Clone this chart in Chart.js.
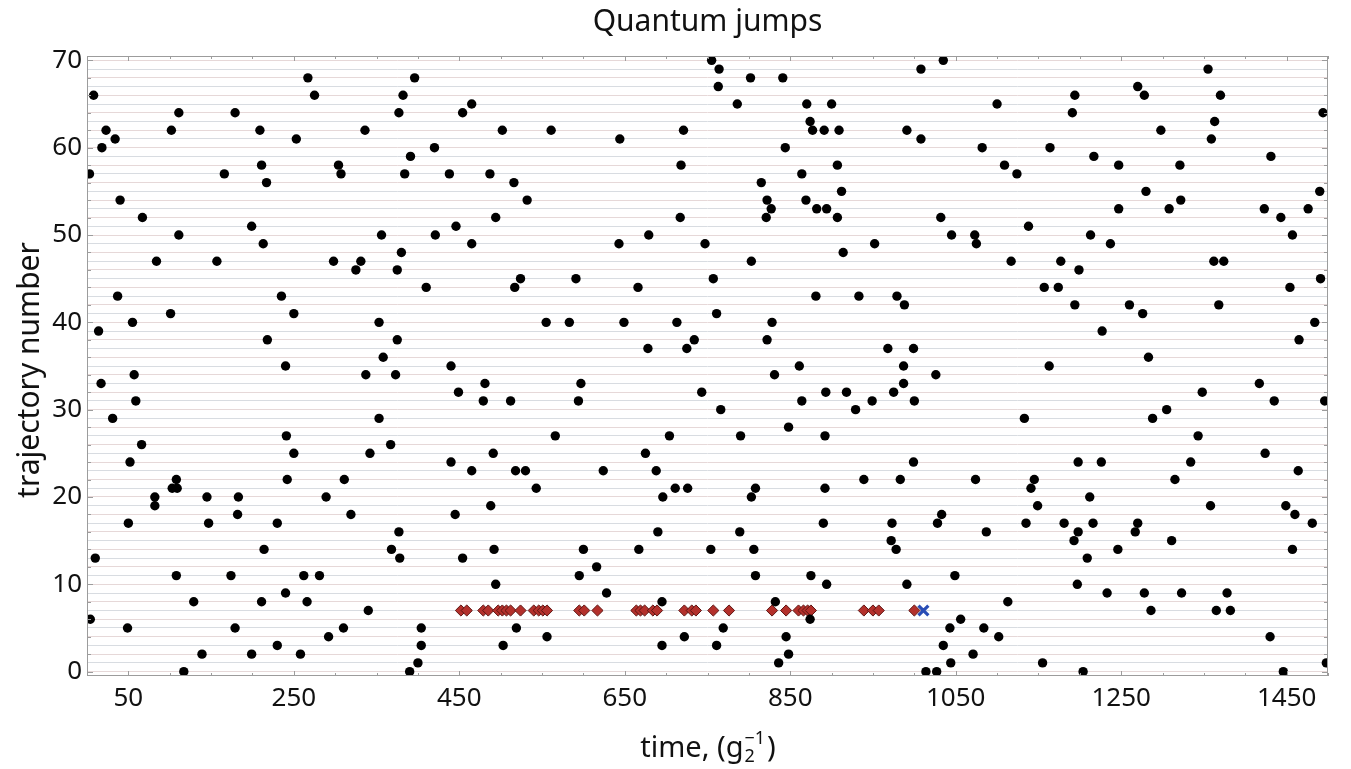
<!DOCTYPE html>
<html>
<head>
<meta charset="utf-8">
<script src="https://cdn.jsdelivr.net/npm/chart.js@4.4.0/dist/chart.umd.min.js"></script>
<style>
  html, body { margin: 0; padding: 0; background: #fff; }
  #wrap { width: 1351px; height: 769px; }
</style>
</head>
<body>
<div id="wrap"><canvas id="chart" width="1351" height="769"></canvas></div>
<script>
// --- Data ---
const X_TICKS = [50, 250, 450, 650, 850, 1050, 1250, 1450];
const Y_TICKS = [0, 10, 20, 30, 40, 50, 60, 70];

// jump times (x) and trajectory numbers (y)
const jumpTime = [
  8, 3, 23, 34, 18, 40, 67, 111, 84, 37, 101, 55, 14, 111, 102, 179, 166, 157, 199, 213,
  209, 211, 217, 235, 250, 218, 240, 267, 275, 253, 304, 307, 336, 298, 331, 325, 356, 353, 375, 358,
  377, 382, 396, 391, 384, 380, 375, 410, 420, 438, 421, 446, 465, 440, 454, 465, 487, 494, 502,
  561, 644, 721, 755, 764, 763, 802, 841, 786, 870, 900, 874, 877, 891, 909, 991, 844, 718, 907, 864,
  516, 815, 912, 532, 822, 869, 827, 882, 894, 717, 821, 907, 679, 643, 747, 952, 914, 803, 524, 517,
  591, 666, 757, 881, 933, 979, 988, 761, 555, 583, 649, 713, 828, 734, 822, 678, 725, 968, 861, 987,
  1008, 1035, 1008, 1100, 1082, 1109, 1124, 1164, 1194, 1191, 1217, 1247, 1270, 1278, 1298, 1321, 1355, 1370, 1363, 1359,
  1431, 1494, 1280, 1247, 1308, 1322, 1423, 1443, 1476, 1490, 1457, 1032, 1045, 1073, 1075, 1138, 1213, 1237, 1117, 1177,
  1199, 1157, 1174, 1362, 1374, 1454, 1491, 1194, 1260, 1276, 1368, 1227, 1484, 1465, 999, 1283, 1163,
  57, 17, 59, 31, 66, 52, 108, 103, 109, 82, 82, 50, 10, 4, 49, 117, 129, 108, 139, 145,
  147, 174, 179, 183, 182, 199, 214, 211, 230, 230, 241, 250, 242, 240, 262, 266, 258, 281, 292, 289,
  311, 310, 319, 337, 373, 353, 367, 342, 340, 377, 368, 378, 390, 400, 404, 404, 440, 449, 481, 479,
  465, 491, 488, 445, 454, 492, 494,
  831, 597, 594, 512, 743, 766, 893, 918, 864, 929, 949, 975, 987, 566, 704, 790, 848, 892, 675, 518,
  530, 624, 688, 543, 711, 726, 696, 808, 803, 892, 939, 983, 690, 789, 890, 973, 972, 978, 600, 667,
  754, 806, 616, 595, 808, 875, 894, 991, 628, 695, 832, 874, 519, 769, 556, 722, 845, 503, 695, 761,
  848, 836,
  1026, 1000, 1417, 1348, 1435, 1496, 1305, 1133, 1288, 1343, 999, 1198, 1226, 1334, 1424, 1464, 1074, 1145, 1141, 1315,
  1212, 1149, 1358, 1449, 1460, 1481, 1033, 1028, 1135, 1181, 1216, 1270, 1087, 1198, 1267, 1193, 1311, 1246, 1457, 1209,
  1049, 1197, 1233, 1278, 1323, 1378, 1113, 1286, 1365, 1382, 1056, 1043, 1084, 1102, 1430, 1035, 1071, 1044, 1155, 1498,
  1014, 1027, 1204, 1446
];
const jumpTraj = [
  66, 57, 62, 61, 60, 54, 52, 50, 47, 43, 41, 40, 39, 64, 62, 64, 57, 47, 51, 49,
  62, 58, 56, 43, 41, 38, 35, 68, 66, 61, 58, 57, 62, 47, 47, 46, 50, 40, 38, 36,
  64, 66, 68, 59, 57, 48, 46, 44, 60, 57, 50, 51, 49, 35, 64, 65, 57, 52, 62,
  62, 61, 62, 70, 69, 67, 68, 68, 65, 65, 65, 63, 62, 62, 62, 62, 60, 58, 58, 57,
  56, 56, 55, 54, 54, 54, 53, 53, 53, 52, 52, 52, 50, 49, 49, 49, 48, 47, 45, 44,
  45, 44, 45, 43, 43, 43, 42, 41, 40, 40, 40, 40, 40, 38, 38, 37, 37, 37, 35, 35,
  69, 70, 61, 65, 60, 58, 57, 60, 66, 64, 59, 58, 67, 66, 62, 58, 69, 66, 63, 61,
  59, 64, 55, 53, 53, 54, 53, 52, 53, 55, 50, 52, 50, 50, 49, 51, 50, 49, 47, 47,
  46, 44, 44, 47, 47, 44, 45, 42, 42, 41, 42, 39, 40, 38, 37, 36, 35,
  34, 33, 31, 29, 26, 24, 22, 21, 21, 20, 19, 17, 13, 6, 5, 0, 8, 11, 2, 20,
  17, 11, 5, 20, 18, 2, 14, 8, 3, 17, 27, 25, 22, 9, 11, 8, 2, 11, 4, 20,
  22, 5, 18, 34, 34, 29, 26, 25, 7, 16, 14, 13, 0, 1, 3, 5, 24, 32, 33, 31,
  23, 25, 19, 18, 13, 14, 10,
  34, 33, 31, 31, 32, 30, 32, 32, 31, 30, 31, 32, 33, 27, 27, 27, 28, 27, 25, 23,
  23, 23, 23, 21, 21, 21, 20, 21, 20, 21, 22, 22, 16, 16, 17, 17, 15, 14, 14, 14,
  14, 14, 12, 11, 11, 11, 10, 10, 9, 8, 8, 6, 5, 5, 4, 4, 4, 3, 3, 3,
  2, 1,
  34, 31, 33, 32, 31, 31, 30, 29, 29, 27, 24, 24, 24, 24, 25, 23, 22, 22, 21, 22,
  20, 19, 19, 19, 18, 17, 18, 17, 17, 17, 17, 17, 16, 16, 16, 15, 15, 14, 14, 13,
  11, 10, 9, 9, 9, 9, 8, 7, 7, 7, 6, 5, 5, 4, 4, 3, 2, 1, 1, 1,
  0, 0, 0, 0
];

// trajectory 7 is followed: its jumps are drawn as diamonds, the last one as a cross
const trackedTraj = 7;
const trackedTimes = [
  452, 459, 479, 485, 497, 502, 507, 512, 524, 540, 546, 551, 556, 595, 601, 617, 664, 669, 674, 684,
  689, 722, 731, 736, 757, 776, 828, 845, 860, 866, 871, 875, 939, 950, 957, 1000
];
const finalTime = [1011];

// --- Helpers ---
const FONT = '"Noto Sans", "Open Sans", sans-serif';

function toPoints(xs, ys) {
  return xs.map((t, i) => ({ x: t, y: Array.isArray(ys) ? ys[i] : ys }));
}

// frame, inward tick marks and all titles
const decorPlugin = {
  id: 'decor',
  afterDraw(chart) {
    const { ctx, chartArea: a, scales: { x, y } } = chart;
    ctx.save();
    ctx.strokeStyle = '#9c9c9c';
    ctx.lineWidth = 1;
    ctx.strokeRect(a.left + 0.5, a.top + 0.5, a.right - a.left - 1, a.bottom - a.top - 1);

    ctx.beginPath();
    for (let v = 0; v <= 1500; v += 50) {
      const px = Math.round(x.getPixelForValue(v)) + 0.5;
      const len = X_TICKS.includes(v) ? 5 : 3;
      ctx.moveTo(px, a.bottom); ctx.lineTo(px, a.bottom - len);
      ctx.moveTo(px, a.top); ctx.lineTo(px, a.top + len);
    }
    for (let v = 0; v <= 70; v += 2) {
      const py = Math.round(y.getPixelForValue(v)) + 0.5;
      const len = Y_TICKS.includes(v) ? 6 : 4;
      ctx.moveTo(a.left, py); ctx.lineTo(a.left + len, py);
      ctx.moveTo(a.right, py); ctx.lineTo(a.right - len, py);
    }
    ctx.stroke();

    ctx.fillStyle = '#111';
    const cx = (a.left + a.right) / 2;

    // chart title
    ctx.font = `30px ${FONT}`;
    ctx.textAlign = 'center';
    ctx.textBaseline = 'alphabetic';
    ctx.fillText('Quantum jumps', cx, 31);

    // x title: time, (g_2^-1)
    const big = `29px ${FONT}`, small = `18px ${FONT}`;
    ctx.font = big;
    const w1 = ctx.measureText('time, (g').width;
    const w3 = ctx.measureText(')').width;
    ctx.font = small;
    const w2 = Math.max(ctx.measureText('\u22121').width, ctx.measureText('2').width) + 2;
    let sx = cx - (w1 + w2 + w3) / 2;
    const base = 757;
    ctx.textAlign = 'left';
    ctx.font = big;
    ctx.fillText('time, (g', sx, base);
    sx += w1 + 1;
    ctx.font = small;
    ctx.fillText('\u22121', sx, base - 13);
    ctx.fillText('2', sx, base + 5);
    sx += w2;
    ctx.font = big;
    ctx.fillText(')', sx, base);

    // y title
    ctx.translate(30, (a.top + a.bottom) / 2 + 4);
    ctx.rotate(-Math.PI / 2);
    ctx.font = `30px ${FONT}`;
    ctx.textAlign = 'center';
    ctx.textBaseline = 'middle';
    ctx.fillText('trajectory number', 0, 0);
    ctx.restore();
  }
};

// --- Chart ---
const ctx = document.getElementById('chart').getContext('2d');
new Chart(ctx, {
  type: 'scatter',
  data: {
    datasets: [
      {
        label: 'jumps',
        data: toPoints(jumpTime, jumpTraj),
        pointRadius: 4.7,
        pointBackgroundColor: '#000',
        pointBorderWidth: 0
      },
      {
        label: 'trajectory 7',
        data: toPoints(trackedTimes, trackedTraj),
        pointStyle: 'rectRot',
        pointRadius: 5.6,
        pointBackgroundColor: '#b3302b',
        pointBorderColor: '#5e1512',
        pointBorderWidth: 1
      },
      {
        label: 'last jump',
        data: toPoints(finalTime, trackedTraj),
        pointStyle: 'crossRot',
        pointRadius: 7,
        pointBorderColor: '#2a4db5',
        pointBorderWidth: 3.2
      }
    ]
  },
  options: {
    responsive: false,
    animation: false,
    layout: { padding: { top: 56, right: 23, left: 0, bottom: 0 } },
    plugins: { legend: { display: false }, tooltip: { enabled: false }, title: { display: false } },
    scales: {
      x: {
        type: 'linear',
        min: 0,
        max: 1500,
        afterBuildTicks: s => { s.ticks = X_TICKS.map(v => ({ value: v })); },
        afterFit: s => { s.height = 93; },
        grid: { display: false, drawTicks: false },
        border: { display: false },
        ticks: {
          autoSkip: false, maxRotation: 0, padding: 7, color: '#111',
          font: { family: FONT, size: 26 },
          callback: v => String(v)
        }
      },
      y: {
        type: 'linear',
        min: -0.5,
        max: 70.5,
        afterBuildTicks: s => {
          const t = [];
          for (let v = 0; v <= 70; v++) t.push({ value: v });
          s.ticks = t;
        },
        afterFit: s => { s.width = 87; },
        grid: {
          drawTicks: false,
          color: c => (c.tick && c.tick.value % 2) ? '#d8dce1' : '#e6d8d8',
          lineWidth: 1
        },
        border: { display: false },
        ticks: {
          autoSkip: false,
          padding: 5,
          color: '#111',
          font: { family: FONT, size: 26 },
          callback: v => (Y_TICKS.includes(v) ? String(v) : '')
        }
      }
    }
  },
  plugins: [decorPlugin]
});
</script>
</body>
</html>
